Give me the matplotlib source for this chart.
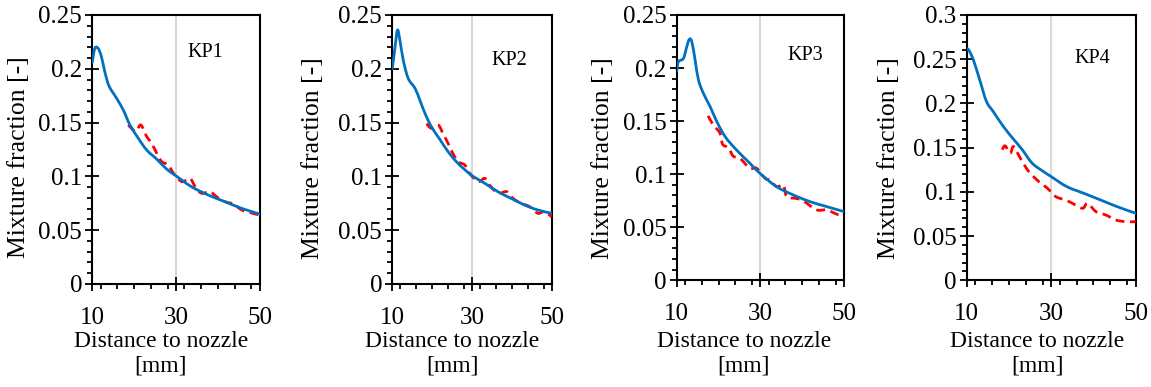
import matplotlib
matplotlib.use("Agg")
import numpy as np
import matplotlib.pyplot as plt
from matplotlib.path import Path
from matplotlib.patches import PathPatch
from matplotlib.ticker import MultipleLocator, FuncFormatter

# ---- data: mixture fraction along the jet axis --------------------------
panel_names = ["KP1", "KP2", "KP3", "KP4"]

kp1_sim_x = [10, 10.6, 11.4, 12.2, 13, 14, 15.8, 17.4, 19, 21, 23, 25.4, 27.7, 30, 33.7, 37.7, 41.7, 45.7, 50]
kp1_sim_y = [0.206, 0.219, 0.219, 0.211, 0.197, 0.184, 0.1726, 0.1617, 0.1478, 0.1354, 0.1245, 0.116, 0.107, 0.1005, 0.0904, 0.0827, 0.0765, 0.0703, 0.065]
kp1_exp_x = [18.6, 19.8, 20.6, 21.6, 23, 24.2, 25.4, 26.6, 28.2, 29.4, 31.4, 33.3, 34.6, 36.1, 38.1, 39.7, 41.7, 43.7, 45.7, 47.7, 50]
kp1_exp_y = [0.1478, 0.143, 0.142, 0.1478, 0.137, 0.1307, 0.1214, 0.1137, 0.1106, 0.1029, 0.0951, 0.0982, 0.0904, 0.0843, 0.0858, 0.0811, 0.0765, 0.0743, 0.0688, 0.0663, 0.0641]

kp2_sim_x = [10, 10.7, 11.3, 11.9, 12.75, 14, 15.7, 16.9, 18.2, 19.8, 21.9, 24, 26.5, 29.8, 33.2, 36.5, 39.8, 43.2, 46.5, 50]
kp2_sim_y = [0.2, 0.2206, 0.236, 0.2268, 0.208, 0.191, 0.1819, 0.171, 0.1586, 0.1462, 0.1346, 0.123, 0.1121, 0.1013, 0.0936, 0.0858, 0.0796, 0.0734, 0.0688, 0.0657]
kp2_exp_x = [18.6, 19.8, 21.5, 22.7, 24.0, 25.2, 26.5, 28.2, 29.4, 31.5, 33.2, 34.4, 36.5, 38.7, 40.3, 42.3, 44.5, 46.5, 48.2, 50]
kp2_exp_y = [0.149, 0.1447, 0.1478, 0.14, 0.1307, 0.1214, 0.1137, 0.1106, 0.1029, 0.0951, 0.0982, 0.092, 0.0843, 0.0858, 0.0796, 0.075, 0.0718, 0.0657, 0.0672, 0.0625]

kp3_sim_x = [10, 10.4, 11.6, 12.4, 13, 13.6, 14.4, 15.2, 16.4, 18, 19.6, 21.6, 24.3, 27.5, 29.9, 33.9, 37.9, 41.9, 45.9, 50]
kp3_sim_y = [0.197, 0.206, 0.209, 0.22, 0.227, 0.225, 0.2076, 0.1888, 0.176, 0.1636, 0.1495, 0.1353, 0.1228, 0.1103, 0.1008, 0.0882, 0.0804, 0.0741, 0.0694, 0.0647]
kp3_exp_x = [17.5, 18.8, 20.3, 21.0, 22.4, 23.5, 25.1, 27.5, 29.1, 31.1, 32.3, 33.9, 35.5, 36.3, 38.3, 39.9, 41.1, 43.5, 45.9, 47.8, 50]
kp3_exp_y = [0.155, 0.146, 0.139, 0.128, 0.125, 0.117, 0.115, 0.1056, 0.1056, 0.0961, 0.0945, 0.0882, 0.0898, 0.0788, 0.0773, 0.0757, 0.0726, 0.0663, 0.0663, 0.0631, 0.0594]

kp4_sim_x = [10, 10.4, 11.6, 13.2, 14.7, 16.3, 18.7, 21, 23.1, 25.5, 28.2, 30, 33.7, 37.7, 41.7, 45.6, 50]
kp4_sim_y = [0.2605, 0.261, 0.249, 0.2247, 0.202, 0.1907, 0.1738, 0.1600, 0.1480, 0.1324, 0.1229, 0.1172, 0.1059, 0.0984, 0.0908, 0.0833, 0.0758]
kp4_exp_x = [18.4, 19.1, 20.3, 21.1, 22.7, 24.7, 27.1, 29.1, 31.1, 33.4, 35, 37.4, 38.6, 40.6, 42.9, 45.3, 47.7, 50]
kp4_exp_y = [0.1477, 0.152, 0.1437, 0.1512, 0.138, 0.1229, 0.1115, 0.1041, 0.0946, 0.0908, 0.0871, 0.0814, 0.0871, 0.0776, 0.0739, 0.0682, 0.0663, 0.0663]

sim_x = [kp1_sim_x, kp2_sim_x, kp3_sim_x, kp4_sim_x]
sim_y = [kp1_sim_y, kp2_sim_y, kp3_sim_y, kp4_sim_y]
exp_x = [kp1_exp_x, kp2_exp_x, kp3_exp_x, kp4_exp_x]
exp_y = [kp1_exp_y, kp2_exp_y, kp3_exp_y, kp4_exp_y]
y_max = [0.25, 0.25, 0.25, 0.3]

x_ticks = [10, 30, 50]
x_label = "Distance to nozzle\n[mm]"
y_label = "Mixture fraction [-]"

# ---- layout (pixel boxes of the plot areas) ----------------------------
W, H = 1151, 387
boxes = [(92.3, 259.7, 15, 284), (392.3, 551.7, 15, 284),
         (676.7, 844.0, 15, 280.3), (966.7, 1135.7, 15, 280.3)]
name_pos = [(32.8, 0.2156), (35.0, 0.208), (36.4, 0.2123), (35.6, 0.251)]
ylabel_pos = [(-0.435, 0.472), (-0.495, 0.468), (-0.44, 0.461), (-0.458, 0.461)]
xlabel_x = [0.41, 0.378, 0.402, 0.419]

plt.rcParams["font.family"] = ["Liberation Serif", "DejaVu Serif"]


def smooth_path(ax, xs, ys, tension=0.5):
    """Smoothed polyline through the points (cubic Bezier segments),
    built in display space so the curve shape follows the axes scaling."""
    pts = ax.transData.transform(np.column_stack([xs, ys]))
    n = len(pts)
    verts = [pts[0]]
    codes = [Path.MOVETO]
    for k in range(n - 1):
        p0 = pts[k - 1] if k > 0 else pts[k]
        p1 = pts[k]
        p2 = pts[k + 1]
        p3 = pts[k + 2] if k + 2 < n else pts[k + 1]
        c1 = p1 + (p2 - p0) * tension / 3.0
        c2 = p2 - (p3 - p1) * tension / 3.0
        verts += [c1, c2, p2]
        codes += [Path.CURVE4] * 3
    return Path(ax.transData.inverted().transform(np.array(verts)), codes)


fmt = FuncFormatter(lambda v, p: f"{v:g}")

fig = plt.figure(figsize=(W / 100, H / 100), dpi=100)
fig.patch.set_facecolor("white")

for i in range(4):
    L, R, T, B = boxes[i]
    ax = fig.add_axes([L / W, (H - B) / H, (R - L) / W, (B - T) / H])

    ax.set_xlim(10, 50)
    ax.set_ylim(0, y_max[i])

    ax.add_patch(PathPatch(smooth_path(ax, exp_x[i], exp_y[i]), fill=False,
                           edgecolor="#FF0000", lw=2.0, linestyle=(0, (3.2, 2.0)),
                           zorder=3))
    ax.add_patch(PathPatch(smooth_path(ax, sim_x[i], sim_y[i]), fill=False,
                           edgecolor="#0070C0", lw=2.0, joinstyle="round",
                           capstyle="round", zorder=4))

    ax.set_xticks(x_ticks)
    ax.xaxis.set_minor_locator(MultipleLocator(4))
    ax.yaxis.set_major_locator(MultipleLocator(0.05))
    ax.yaxis.set_minor_locator(MultipleLocator(0.01))
    ax.yaxis.set_major_formatter(fmt)

    ax.grid(axis="x", which="major", color="#d9d9d9", lw=1.5, zorder=0)
    ax.set_axisbelow(True)

    for s in ax.spines.values():
        s.set_linewidth(1.5)
        s.set_color("black")

    ax.tick_params(which="major", direction="inout", length=9.5, width=1.3,
                   labelsize=18, color="black")
    ax.tick_params(axis="y", which="major", pad=2.5)
    ax.tick_params(axis="x", which="major", pad=11.5)
    ax.tick_params(which="minor", direction="out", length=3.6, width=1.3, color="black")

    ax.text(name_pos[i][0], name_pos[i][1], panel_names[i], fontsize=14.5,
            ha="left", va="center")

    ax.set_ylabel(y_label, fontsize=18.5)
    ax.yaxis.label.set_va("center")
    ax.yaxis.set_label_coords(*ylabel_pos[i])

    ax.set_xlabel(x_label, fontsize=17, linespacing=1.2)
    ax.xaxis.label.set_va("center")
    ax.xaxis.set_label_coords(xlabel_x[i], (B - 354) / (B - T))

fig.savefig("out.png", dpi=100, facecolor="white")
